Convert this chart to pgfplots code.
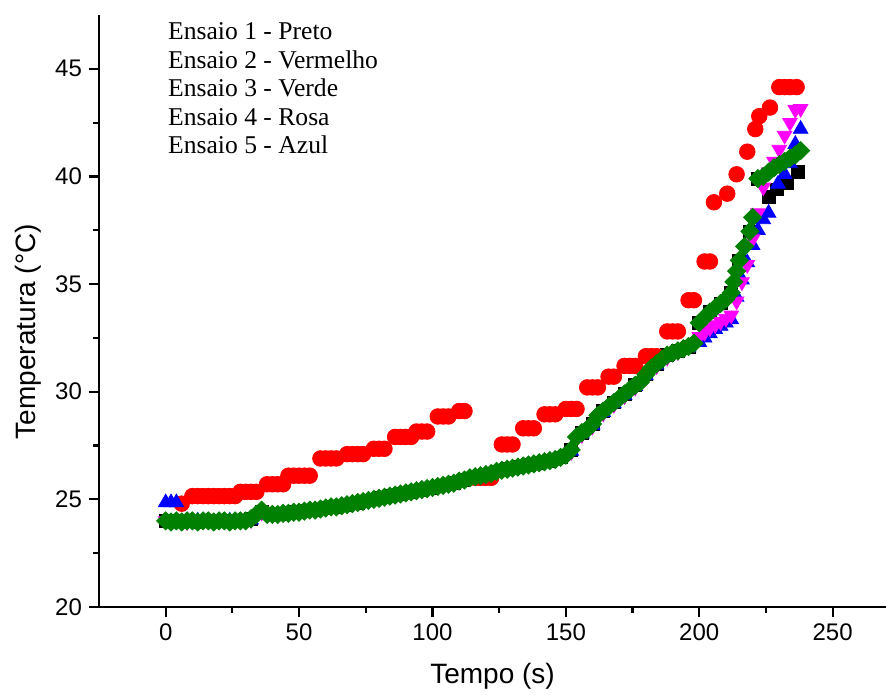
\documentclass[border=0pt]{standalone}
\usepackage{fontspec}
\setmainfont{Liberation Sans}
\newfontfamily\timesfont{Liberation Serif}
\usepackage{pgfplots}
\pgfplotsset{compat=1.18}

\definecolor{verde}{RGB}{0,128,0}
\definecolor{rosa}{RGB}{255,0,255}

\begin{document}
\begin{tikzpicture}
\begin{axis}[
    scale only axis,
    width=393.5pt, height=296pt,
    xmin=-25, xmax=270, ymin=20, ymax=47.5,
    axis x line*=bottom, axis y line*=left,
    axis line style={line width=1.2pt},
    xtick={0,50,...,250}, ytick={20,25,...,45},
    minor x tick num=1, minor y tick num=1,
    tick align=outside,
    major tick length=5pt, minor tick length=3pt,
    every tick/.style={line width=1.1pt, black},
    tick label style={font=\fontsize{12}{14}\selectfont},
    /pgf/number format/assume math mode=true,
    xlabel={Tempo (s)}, ylabel={Temperatura (°C)},
    label style={font=\fontsize{14}{16}\selectfont},
    xlabel style={yshift=-4pt},
    ylabel style={at={(ticklabel cs:0.465)}},
    clip=false,
]
% Ensaio 1 - preto
\addplot[only marks, mark=square*, mark size=3.2pt, draw=black, fill=black] coordinates {
(0,24.0)(4,24.0)(8,24.0)(12,23.95)(16,24.0)(20,24.0)(24,24.0)(28,24.0)(32,24.1)(36,24.4)
(40,24.3)(44,24.3)(48,24.4)(52,24.45)(56,24.5)(60,24.6)(64,24.65)(68,24.75)(72,24.85)(76,24.95)
(80,25.05)(84,25.15)(88,25.25)(92,25.35)(96,25.45)(100,25.55)(104,25.65)(108,25.75)(112,25.9)(116,26.05)
(120,26.15)(124,26.3)(128,26.4)(132,26.5)(136,26.6)(140,26.7)(144,26.8)(148,26.95)(152,27.3)(156,28.1)
(160,28.5)(164,29.1)(168,29.5)(172,29.9)(176,30.3)(180,30.8)(184,31.3)(188,31.7)(192,31.9)(196,32.1)
(200,33.2)(204,33.7)(208,34.1)(212,34.6)(215,36.1)(219,37.45)(222,39.9)
(226,39.05)(229,39.4)(233,39.7)(237,40.2)
};
% Ensaio 2 - vermelho
\addplot[only marks, mark=*, mark size=3.9pt, draw=red, fill=red] coordinates {
(6,24.8)
(10,25.15)(12,25.15)(14,25.15)(16,25.15)(18,25.15)(20,25.15)(22,25.15)(24,25.15)(26,25.15)
(28,25.35)(30,25.35)(32,25.35)(34,25.35)
(38,25.7)(40,25.7)(42,25.7)(44,25.7)
(46,26.1)(48,26.1)(50,26.1)(52,26.1)(54,26.1)
(58,26.9)(60,26.9)(62,26.9)(64,26.9)
(68,27.1)(70,27.1)(72,27.1)(74,27.1)
(78,27.35)(80,27.35)(82,27.35)
(86,27.9)(88,27.9)(90,27.9)(92,27.9)
(94,28.15)(96,28.15)(98,28.15)
(102,28.85)(104,28.85)(106,28.85)
(110,29.1)(112,29.1)
(116,26.0)(118,26.0)(120,26.0)(122,26.0)
(126,27.55)(128,27.55)(130,27.55)
(134,28.3)(136,28.3)(138,28.3)
(142,28.95)(144,28.95)(146,28.95)
(150,29.2)(152,29.2)(154,29.2)
(158,30.2)(160,30.2)(162,30.2)
(166,30.7)(168,30.7)
(172,31.2)(174,31.2)(176,31.2)
(180,31.65)(182,31.65)(184,31.65)
(188,32.8)(190,32.8)(192,32.8)
(196,34.25)(198,34.25)
(202,36.05)(204,36.05)
(205.5,38.8)(210.5,39.2)(214,40.1)(218,41.15)(221,42.2)(222.5,42.8)(226.5,43.2)
(230,44.15)(232,44.15)(234,44.15)(236.5,44.15)
};
% Ensaio 5 - azul
\addplot[only marks, mark=triangle*, mark size=4.2pt, draw=blue, fill=blue] coordinates {
(0,24.85)(2,24.85)(4,24.85)(8,24.0)(12,24.0)(16,23.95)(20,24.0)(24,24.0)(28,24.0)(32,24.05)
(36,24.35)(40,24.3)(44,24.3)(48,24.4)(52,24.45)(56,24.5)(60,24.6)(64,24.65)(68,24.75)(72,24.85)
(76,24.95)(80,25.05)(84,25.15)(88,25.25)(92,25.35)(96,25.45)(100,25.55)(104,25.65)(108,25.75)(112,25.9)
(116,26.05)(120,26.15)(124,26.3)(128,26.4)(132,26.5)(136,26.6)(140,26.7)(144,26.8)(148,26.95)(152,27.25)
(156,28.05)(160,28.45)(164,29.05)(168,29.45)(172,29.85)(176,30.25)(180,30.75)(184,31.25)(188,31.65)(192,31.85)
(196,32.05)(200,32.3)(202,32.5)(204,32.7)(206,32.9)(208,33.05)(210,33.2)(212,33.35)(214,34.4)(216,35.2)
(218,36.0)(220,36.8)(222,37.5)(224,38.0)(226,38.3)(229.5,39.65)(232,40.1)(234,40.6)(236,41.5)(238,42.2)
};
% Ensaio 4 - rosa
\addplot[only marks, mark=triangle*, mark size=4.2pt, mark options={rotate=180}, draw=rosa, fill=rosa] coordinates {
(0,24.0)(4,24.0)(8,23.95)(12,24.0)(16,24.0)(20,24.0)(24,23.95)(28,24.0)(32,24.05)(36,24.4)
(40,24.3)(44,24.35)(48,24.4)(52,24.45)(56,24.5)(60,24.6)(64,24.65)(68,24.75)(72,24.85)(76,24.95)
(80,25.05)(84,25.15)(88,25.25)(92,25.35)(96,25.45)(100,25.55)(104,25.65)(108,25.75)(112,25.9)(116,26.05)
(120,26.15)(124,26.3)(128,26.4)(132,26.5)(136,26.6)(140,26.7)(144,26.8)(148,26.95)(152,27.2)(156,28.0)
(160,28.4)(164,29.0)(168,29.4)(172,29.8)(176,30.2)(180,30.7)(184,31.2)(188,31.6)(192,31.85)(196,32.1)
(200,32.55)(202,32.75)(204,32.95)(206,33.1)(208,33.25)(210,33.4)(212,33.55)(214,34.2)(216,35.1)(218,35.9)
(220,37.1)(222,38.3)(224,39.5)(226,40.2)(228,40.7)(230,41.25)(232,41.9)(234,42.5)(236,43.1)(238,43.15)
};
% Ensaio 3 - verde
\addplot[only marks, mark=square*, mark size=3.2pt, mark options={rotate=45}, draw=verde, fill=verde] coordinates {
(0,24.0)(2,23.95)(4,24.0)(6,23.95)(8,24.0)(10,24.0)(12,23.95)(14,24.0)(16,24.0)(18,23.95)
(20,24.0)(22,24.0)(24,23.95)(26,24.0)(28,24.0)(30,24.0)(32,24.1)(34,24.3)(36,24.5)(38,24.3)
(40,24.3)(42,24.3)(44,24.35)(46,24.35)(48,24.4)(50,24.4)(52,24.45)(54,24.5)(56,24.5)(58,24.55)
(60,24.6)(62,24.65)(64,24.65)(66,24.7)(68,24.75)(70,24.8)(72,24.85)(74,24.9)(76,24.95)(78,25.0)
(80,25.05)(82,25.1)(84,25.15)(86,25.2)(88,25.25)(90,25.3)(92,25.35)(94,25.4)(96,25.45)(98,25.5)
(100,25.55)(102,25.6)(104,25.65)(106,25.7)(108,25.75)(110,25.85)(112,25.9)(114,26.0)(116,26.05)(118,26.1)
(120,26.15)(122,26.2)(124,26.3)(126,26.35)(128,26.4)(130,26.45)(132,26.5)(134,26.55)(136,26.6)(138,26.65)
(140,26.7)(142,26.75)(144,26.8)(146,26.85)(148,26.95)(150,27.05)(152,27.3)(154,27.9)(156,28.1)(158,28.25)
(160,28.5)(162,28.9)(164,29.1)(166,29.3)(168,29.5)(170,29.7)(172,29.9)(174,30.1)(176,30.3)(178,30.45)
(180,30.8)(182,31.1)(184,31.3)(186,31.5)(188,31.7)(190,31.8)(192,31.9)(194,32.0)(196,32.1)(198,32.25)
(200,33.2)(202,33.45)(204,33.7)(206,33.9)(208,34.1)(210,34.3)(212,34.6)(213,35.1)(214,35.6)(215,36.1)
(217,36.75)(219,37.45)(220,38.1)(222,39.9)(224,40.0)(226,40.2)(228,40.4)(230,40.55)(232,40.7)(234,40.85)
(236,41.0)(238,41.2)
};
\node[anchor=north west, align=left, inner sep=0pt, font=\timesfont\fontsize{12.8}{14.25}\selectfont]
  at (axis cs:0.8,47.15) {Ensaio 1 - Preto\\Ensaio 2 - Vermelho\\Ensaio 3 - Verde\\Ensaio 4 - Rosa\\Ensaio 5 - Azul};
\coordinate (bl) at (rel axis cs:0,0);
\coordinate (tr) at (rel axis cs:1,1);
\end{axis}
\pgfresetboundingbox
\path (bl) ++(-49.5pt,-44pt);
\path (tr) ++(0pt,7.5pt);
\end{tikzpicture}
\end{document}
